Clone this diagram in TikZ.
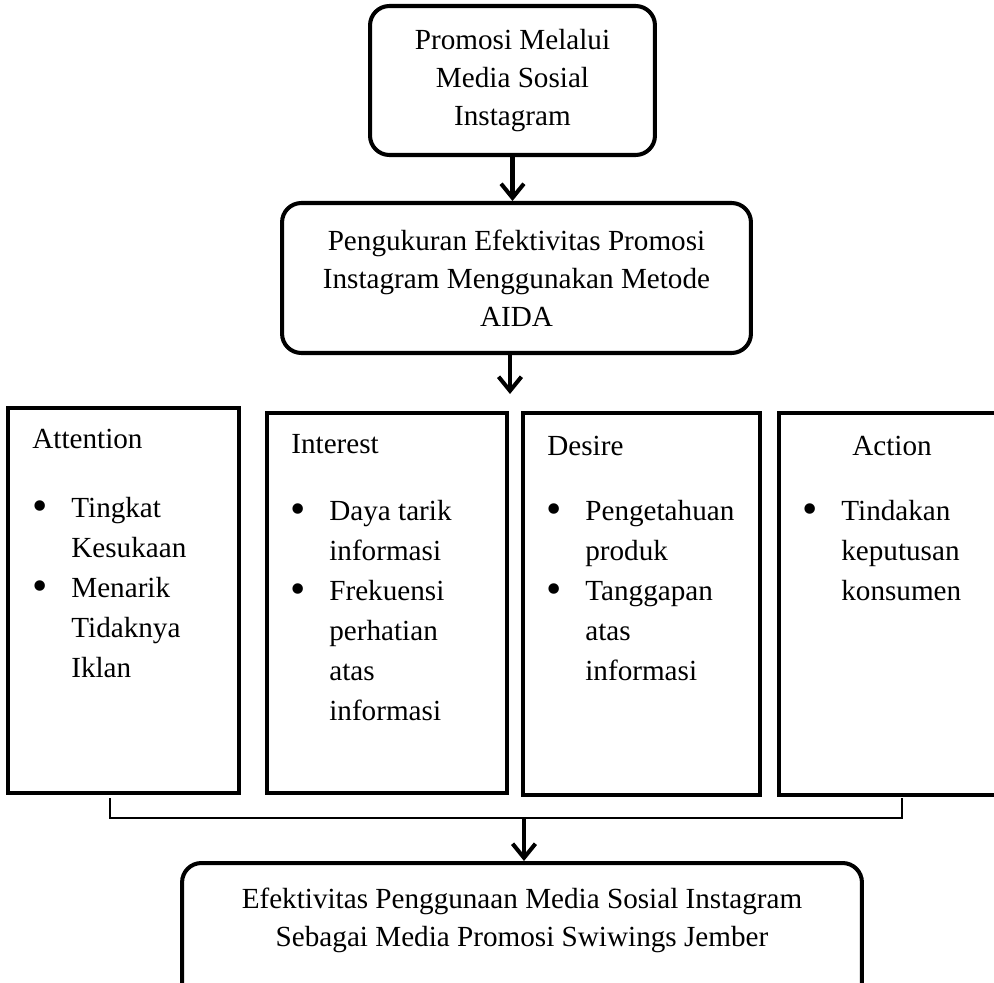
\documentclass[tikz,border=0pt]{standalone}
\usepackage{fontspec}
\setmainfont{Liberation Serif}
\usepackage{tikz}
\usetikzlibrary{arrows.meta}
\newcommand{\blt}{\raisebox{-0.12em}{\scalebox{1.5}{\textbullet}}}

\begin{document}
\begin{tikzpicture}[x=0.02cm, y=-0.02cm,
        box/.style={draw, line width=2.3pt, rounded corners=11pt, align=center, inner sep=0pt,
            font=\fontsize{16.6pt}{21.6pt}\selectfont},
        col/.style={draw, line width=2.3pt, inner sep=0pt},
        head/.style={anchor=base west, inner sep=0pt, font=\fontsize{16.6pt}{22.8pt}\selectfont},
        arr/.style={line width=2.3pt, -{Straight Barb[length=8pt, width=13pt]}}]
        \useasboundingbox (0,0) rectangle (994,983);
        \node[box, minimum width=5.7cm, minimum height=2.98cm] (P) at (512.5,80.5)
            {Promosi Melalui\\Media Sosial\\Instagram};
        \node[box, minimum width=9.38cm, minimum height=3cm] (K) at (516.5,278)
            {Pengukuran Efektivitas Promosi\\Instagram Menggunakan Metode\\AIDA};
        \draw[arr] (P.south) -- (P.south |- K.north);
        \coordinate (S) at (510,394);
        \draw[arr] (K.south -| S) -- (S);
        % AIDA columns
        \node[col, minimum width=4.62cm, minimum height=7.7cm] (A) at (123.5,600.5) {};
        \node[col, minimum width=4.8cm, minimum height=7.6cm] (I) at (387,603) {};
        \node[col, minimum width=4.74cm, minimum height=7.64cm] (D) at (641.5,604) {};
        \node[col, minimum width=4.6cm, minimum height=7.64cm] (C) at (894,604) {};
        \node[head] (A1) at (32,448) {Attention};
        \node[head] (I1) at (291,453) {Interest};
        \node[head] (D1) at (547,455) {Desire};
        \node[head] (C1) at (852,455) {Action};
        \node[head] (A2) at (32,517) {\begin{tabular}[t]{@{}p{0.78cm}@{}l@{}}
            \blt & Tingkat\\ & Kesukaan\\ \blt & Menarik\\ & Tidaknya\\ & Iklan
            \end{tabular}};
        \node[head] (I2) at (290,520) {\begin{tabular}[t]{@{}p{0.78cm}@{}l@{}}
            \blt & Daya tarik\\ & informasi\\ \blt & Frekuensi\\ & perhatian\\ & atas\\ & informasi
            \end{tabular}};
        \node[head] (D2) at (546,520) {\begin{tabular}[t]{@{}p{0.78cm}@{}l@{}}
            \blt & Pengetahuan\\ & produk\\ \blt & Tanggapan\\ & atas\\ & informasi
            \end{tabular}};
        \node[head] (C2) at (802,520) {\begin{tabular}[t]{@{}p{0.78cm}@{}l@{}}
            \blt & Tindakan\\ & keputusan\\ & konsumen
            \end{tabular}};
        % joining line
        \coordinate (L) at (110,818);
        \coordinate (R) at (902,818);
        \coordinate (J) at (524,818);
        \draw[line width=0.8pt] (110,798) -- (L) -- (R) -- (902,798);
        \node[box, minimum width=13.6cm, minimum height=2.94cm] (E) at (522,936.5) {};
        \node[box, draw=none] (E1) at (522,920)
            {Efektivitas Penggunaan Media Sosial Instagram\\Sebagai Media Promosi Swiwings Jember};
        \draw[arr] (J) -- (J |- E.north);
    \end{tikzpicture}
\end{document}
